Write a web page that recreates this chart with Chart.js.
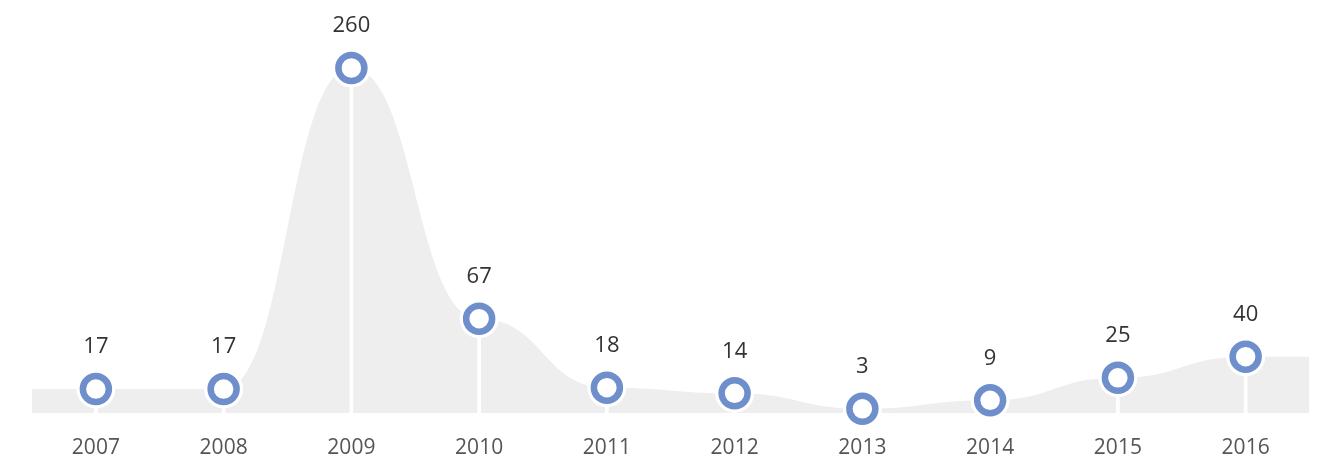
<!DOCTYPE html>
<html>
<head>
<meta charset="utf-8">
<script src="https://cdn.jsdelivr.net/npm/chart.js@4.4.1/dist/chart.umd.min.js"></script>
<style>
  html, body { margin:0; padding:0; background:#fff; }
  #wrap { width:1329px; height:464px; }
</style>
</head>
<body>
<div id="wrap"><canvas id="chart1"></canvas></div>
<script>
const years = ['2007','2008','2009','2010','2011','2012','2013','2014','2015','2016'];
const counts = [17, 17, 260, 67, 18, 14, 3, 9, 25, 40];
// top of the value axis; bigger values are pinned to the top edge
const yMax = 245;

const blue = '#6e8fcb';
const grey = '#eeeeee';

let pts = counts.map((v, i) => ({x: i, y: Math.min(v, yMax)}));
// grey area runs half a step past each end
let areaPts = [{x: -0.5, y: pts[0].y}].concat(pts, [{x: counts.length - 0.5, y: pts[pts.length - 1].y}]);

// flat tangent at every point (like d3 curveBumpX)
const bumpCurve = {
  id: 'bumpCurve',
  beforeDatasetsDraw(chart) {
    const line = chart.getDatasetMeta(0).dataset;
    line.updateControlPoints(chart.chartArea, 'x');
    const p = line.points;
    p.forEach((pt, i) => {
      const prev = p[i - 1] || pt;
      const next = p[i + 1] || pt;
      pt.cp1x = (prev.x + pt.x) / 2;
      pt.cp1y = pt.y;
      pt.cp2x = (pt.x + next.x) / 2;
      pt.cp2y = pt.y;
    });
  }
};

// value labels above each point
const valueLabels = {
  id: 'valueLabels',
  afterDatasetsDraw(chart) {
    const ctx = chart.ctx;
    const meta = chart.getDatasetMeta(3);
    ctx.save();
    ctx.font = '22px "Open Sans"';
    ctx.fillStyle = '#333';
    ctx.textAlign = 'center';
    ctx.textBaseline = 'middle';
    meta.data.forEach((p, i) => {
      ctx.fillText(String(counts[i]), p.x, p.y - 42);
    });
    ctx.restore();
  }
};

new Chart(document.getElementById('chart1').getContext('2d'), {
  type: 'line',
  data: {
    datasets: [
      {
        data: areaPts,
        fill: 'origin',
        backgroundColor: grey,
        borderWidth: 0,
        pointRadius: 0,
        tension: 0.4,
        order: 4
      },
      {
        type: 'bar',
        data: pts,
        backgroundColor: '#fff',
        barThickness: 3,
        order: 3
      },
      {
        data: pts,
        showLine: false,
        pointRadius: 19.5,
        pointBackgroundColor: '#fff',
        pointBorderWidth: 0,
        clip: false,
        order: 2
      },
      {
        data: pts,
        showLine: false,
        pointRadius: 13,
        pointBackgroundColor: '#fff',
        pointBorderColor: blue,
        pointBorderWidth: 6.5,
        clip: false,
        order: 1
      }
    ]
  },
  options: {
    responsive: true,
    maintainAspectRatio: false,
    animation: false,
    layout: { padding: { top: 68, left: 32, right: 19, bottom: 0 } },
    plugins: { legend: { display: false }, tooltip: { enabled: false } },
    scales: {
      x: {
        type: 'linear',
        min: -0.5,
        max: counts.length - 0.5,
        offset: false,
        afterBuildTicks: axis => { axis.ticks = years.map((y, i) => ({value: i})); },
        afterFit: axis => { axis.height = 51; },
        grid: { display: false, drawTicks: false },
        border: { display: false },
        ticks: {
          autoSkip: false,
          maxRotation: 0,
          padding: 22,
          color: '#555',
          font: { family: 'Open Sans', size: 21 },
          callback: v => years[v]
        }
      },
      y: {
        display: false,
        min: 0,
        max: yMax
      }
    }
  },
  plugins: [bumpCurve, valueLabels]
});
</script>
</body>
</html>
